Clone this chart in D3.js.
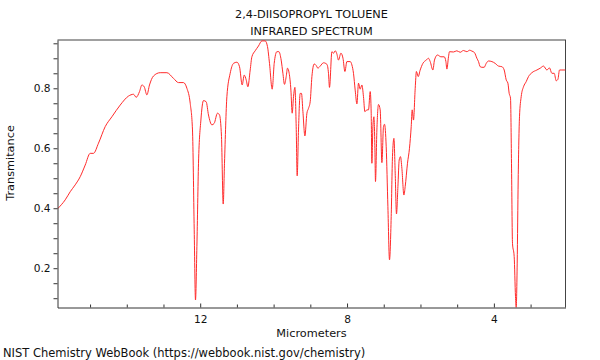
<!DOCTYPE html>
<html>
<head>
<meta charset="utf-8">
<script src="https://cdn.jsdelivr.net/npm/d3@7"></script>
<style>
  html, body { margin: 0; padding: 0; background: #fff; }
  svg { display: block; font-family: "DejaVu Sans", sans-serif; }
</style>
</head>
<body>
<svg id="chart" width="600" height="360"></svg>
<script>
// ---- data ----
const titleLines = ["2,4-DIISOPROPYL TOLUENE", "INFRARED SPECTRUM"];
const xLabel = "Micrometers";
const yLabel = "Transmitance";
const footer = "NIST Chemistry WebBook (https://webbook.nist.gov/chemistry)";

const xDomain = [15.887, 2.049];
const yDomain = [0.069, 0.961];
const xTickLabels = [12, 8, 4];
const xMinorTicks = [15, 14, 13, 11, 10, 9, 7, 6, 5, 3];
const yTickLabels = [0.2, 0.4, 0.6, 0.8];
const yMinorTicks = [0.1, 0.15, 0.25, 0.3, 0.35, 0.45, 0.5, 0.55, 0.65, 0.7, 0.75, 0.85, 0.9, 0.95];

const wavelength = [
  15.887, 15.677, 15.541, 15.405, 15.269, 15.132, 14.996, 14.907, 14.770, 14.588,
  14.405, 14.179, 13.953, 13.817, 13.743, 13.653, 13.588, 13.525, 13.452, 13.381,
  13.272, 13.090, 12.907, 12.727, 12.591, 12.455, 12.362, 12.272, 12.210, 12.163,
  12.128, 12.090, 12.046, 11.981, 11.910, 11.837, 11.774, 11.681, 11.619, 11.529,
  11.474, 11.420, 11.373, 11.338, 11.273, 11.183, 11.093, 11.000, 10.929, 10.856,
  10.801, 10.747, 10.701, 10.638, 10.592, 10.502, 10.412, 10.319, 10.229, 10.167,
  10.112, 10.039, 9.984, 9.911, 9.856, 9.794, 9.747, 9.704, 9.657, 9.622,
  9.576, 9.529, 9.494, 9.458, 9.420, 9.385, 9.358, 9.322, 9.276, 9.241,
  9.202, 9.148, 9.093, 9.050, 9.004, 8.957, 8.895, 8.840, 8.794, 8.731,
  8.641, 8.549, 8.505, 8.478, 8.412, 8.367, 8.322, 8.278, 8.233, 8.167,
  8.110, 8.058, 8.004, 7.913, 7.868, 7.824, 7.778, 7.731, 7.688, 7.642,
  7.596, 7.552, 7.514, 7.459, 7.415, 7.369, 7.342, 7.323, 7.296, 7.268,
  7.241, 7.225, 7.187, 7.143, 7.097, 7.050, 7.007, 6.979, 6.933, 6.887,
  6.843, 6.797, 6.762, 6.723, 6.688, 6.653, 6.614, 6.579, 6.544, 6.506,
  6.451, 6.416, 6.353, 6.299, 6.252, 6.225, 6.190, 6.143, 6.110, 6.062,
  6.007, 5.934, 5.844, 5.781, 5.735, 5.661, 5.618, 5.536, 5.443, 5.353,
  5.307, 5.280, 5.236, 5.209, 5.100, 5.010, 4.917, 4.830, 4.735, 4.660,
  4.599, 4.528, 4.463, 4.419, 4.373, 4.326, 4.264, 4.209, 4.147, 4.054,
  3.964, 3.874, 3.781, 3.719, 3.664, 3.618, 3.583, 3.547, 3.520, 3.493,
  3.447, 3.411, 3.392, 3.365, 3.338, 3.302, 3.256, 3.193, 3.120, 3.057,
  2.964, 2.828, 2.738, 2.648, 2.556, 2.485, 2.420, 2.357, 2.302, 2.256,
  2.212, 2.147, 2.049
];
const transmittance = [
  0.398, 0.428, 0.455, 0.478, 0.505, 0.544, 0.583, 0.583, 0.617, 0.672,
  0.705, 0.744, 0.774, 0.780, 0.770, 0.789, 0.811, 0.805, 0.778, 0.811,
  0.841, 0.852, 0.852, 0.833, 0.819, 0.819, 0.800, 0.750, 0.661, 0.328,
  0.094, 0.272, 0.550, 0.694, 0.759, 0.755, 0.711, 0.678, 0.683, 0.717,
  0.711, 0.639, 0.414, 0.550, 0.772, 0.850, 0.883, 0.887, 0.872, 0.811,
  0.844, 0.828, 0.805, 0.861, 0.905, 0.925, 0.941, 0.958, 0.958, 0.939,
  0.883, 0.797, 0.883, 0.922, 0.922, 0.894, 0.850, 0.813, 0.839, 0.867,
  0.850, 0.794, 0.717, 0.772, 0.803, 0.672, 0.508, 0.661, 0.783, 0.783,
  0.722, 0.641, 0.717, 0.733, 0.755, 0.839, 0.881, 0.876, 0.867, 0.874,
  0.885, 0.880, 0.850, 0.803, 0.922, 0.917, 0.925, 0.915, 0.894, 0.917,
  0.900, 0.856, 0.889, 0.889, 0.878, 0.850, 0.794, 0.748, 0.817, 0.797,
  0.811, 0.772, 0.722, 0.728, 0.728, 0.789, 0.717, 0.550, 0.672, 0.705,
  0.600, 0.489, 0.661, 0.746, 0.728, 0.552, 0.672, 0.680, 0.605, 0.405,
  0.228, 0.372, 0.572, 0.633, 0.517, 0.381, 0.472, 0.561, 0.572, 0.533,
  0.444, 0.472, 0.550, 0.600, 0.672, 0.728, 0.694, 0.800, 0.856, 0.839,
  0.861, 0.883, 0.894, 0.900, 0.889, 0.861, 0.894, 0.911, 0.905, 0.905,
  0.889, 0.864, 0.905, 0.922, 0.921, 0.925, 0.920, 0.926, 0.922, 0.927,
  0.924, 0.919, 0.900, 0.889, 0.872, 0.870, 0.870, 0.883, 0.891, 0.889,
  0.883, 0.874, 0.872, 0.861, 0.828, 0.817, 0.783, 0.767, 0.550, 0.283,
  0.239, 0.105, 0.069, 0.217, 0.494, 0.705, 0.772, 0.805, 0.822, 0.839,
  0.852, 0.861, 0.867, 0.874, 0.861, 0.868, 0.850, 0.850, 0.825, 0.830,
  0.861, 0.861, 0.861
];

// ---- layout ----
const plot = { left: 57.5, right: 565.5, top: 40, bottom: 307.5 };
const svg = d3.select("#chart");

const x = d3.scaleLinear().domain(xDomain).range([plot.left, plot.right]);
const y = d3.scaleLinear().domain(yDomain).range([plot.bottom, plot.top]);

const points = wavelength.map((w, i) => ({ w, t: transmittance[i] }));

// frame: top grey (thick), right dark
svg.append("line")
  .attr("x1", plot.left).attr("x2", plot.right + 0.5)
  .attr("y1", plot.top).attr("y2", plot.top)
  .attr("stroke", "#a0a0a0").attr("stroke-width", 2);
svg.append("line")
  .attr("x1", plot.right).attr("x2", plot.right)
  .attr("y1", plot.top).attr("y2", plot.bottom)
  .attr("stroke", "#444").attr("stroke-width", 1);

// spectrum line
svg.append("clipPath").attr("id", "clip").append("rect")
  .attr("x", plot.left).attr("y", plot.top - 1)
  .attr("width", plot.right - plot.left).attr("height", plot.bottom - plot.top + 1);

svg.append("path")
  .datum(points)
  .attr("clip-path", "url(#clip)")
  .attr("fill", "none")
  .attr("stroke", "#ff2a2a")
  .attr("stroke-width", 1)
  .attr("stroke-linejoin", "round")
  .attr("d", d3.line().x(d => x(d.w)).y(d => y(d.t)).curve(d3.curveMonotoneX));

// y axis minor ticks
const yMinor = svg.append("g").attr("transform", `translate(${plot.left},0)`)
  .call(d3.axisLeft(y).tickValues(yMinorTicks).tickSize(4).tickFormat(""));
// y axis major
const yAxis = svg.append("g").attr("transform", `translate(${plot.left},0)`)
  .call(d3.axisLeft(y).tickValues(yTickLabels).tickSizeInner(4).tickSizeOuter(0).tickPadding(3).tickFormat(d3.format(".1f")));

// x axis minor
const xMinor = svg.append("g").attr("transform", `translate(0,${plot.bottom})`)
  .call(d3.axisBottom(x).tickValues(xMinorTicks).tickSize(-3).tickFormat(""));
// x axis major
const xAxis = svg.append("g").attr("transform", `translate(0,${plot.bottom})`)
  .call(d3.axisBottom(x).tickValues(xTickLabels).tickSizeInner(-4).tickSizeOuter(0).tickPadding(8).tickFormat(d3.format("d")));

[yMinor, yAxis, xMinor, xAxis].forEach(g => {
  g.selectAll(".domain").attr("stroke", "#333").attr("stroke-width", 1);
  g.selectAll(".tick line").attr("stroke", "#333");
  g.selectAll(".tick text").attr("fill", "#111").style("font-family", "DejaVu Sans").style("font-size", "10.6px");
});
xMinor.select(".domain").remove();
yMinor.select(".domain").remove();

// titles
const cx = (plot.left + plot.right) / 2;
svg.append("text").attr("x", cx).attr("y", 17.5).attr("text-anchor", "middle")
  .style("font-size", "11.3px").attr("fill", "#111").text(titleLines[0]);
svg.append("text").attr("x", cx).attr("y", 34.5).attr("text-anchor", "middle")
  .style("font-size", "11.3px").attr("fill", "#111").text(titleLines[1]);

svg.append("text").attr("x", cx).attr("y", 337).attr("text-anchor", "middle")
  .style("font-size", "11.3px").attr("fill", "#111").text(xLabel);

svg.append("text").attr("transform", `translate(14,163) rotate(-90)`).attr("text-anchor", "middle")
  .style("font-size", "11.3px").attr("fill", "#111").text(yLabel);

svg.append("text").attr("x", 3).attr("y", 357)
  .style("font-size", "11.5px").attr("fill", "#111").text(footer);
</script>
</body>
</html>
